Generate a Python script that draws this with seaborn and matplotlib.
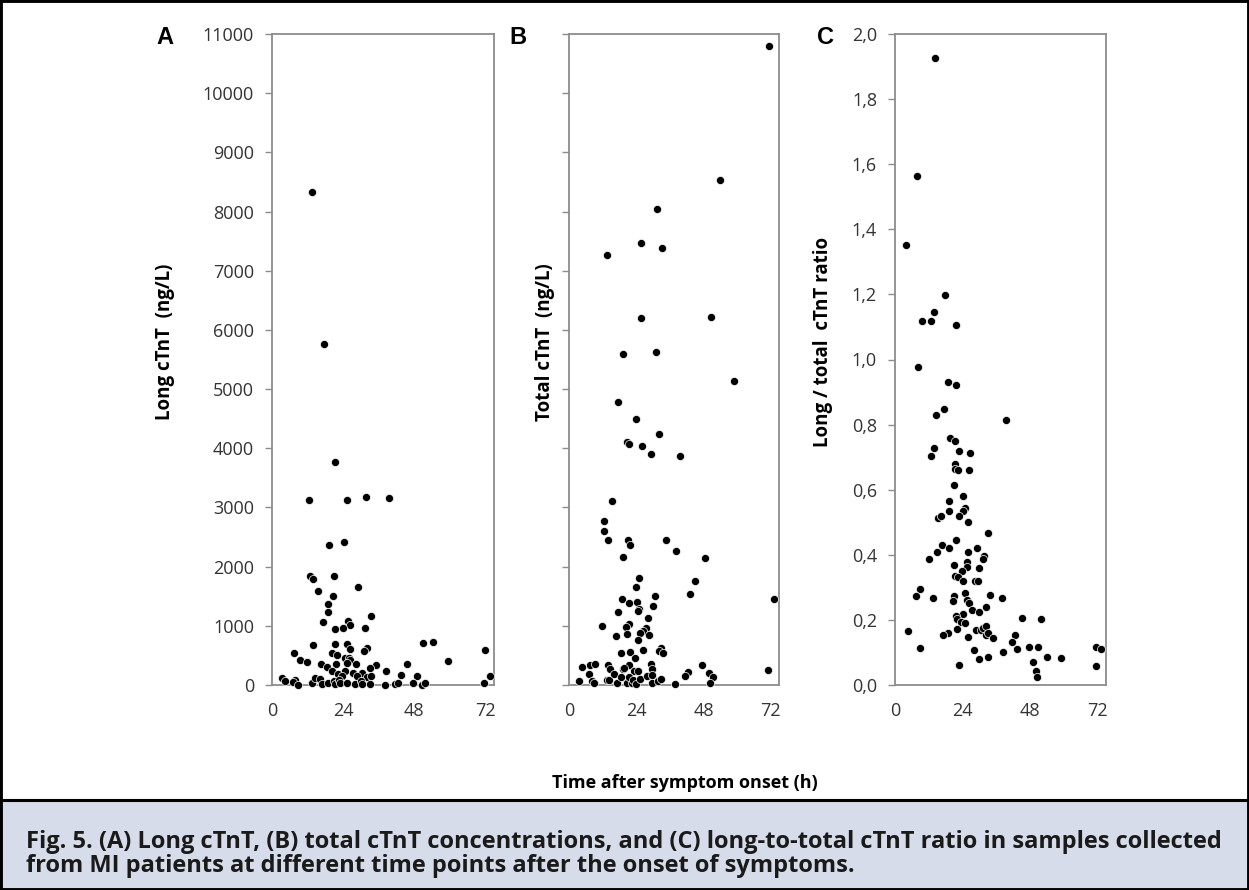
import matplotlib
matplotlib.use("Agg")
import matplotlib.pyplot as plt
from matplotlib.patches import Rectangle
import seaborn as sns
import pandas as pd

# ---------------- data ----------------
A_time = [13.5, 17.7, 21.4, 12.6, 25.4, 31.6, 39.6, 19.2, 24.3, 12.7, 13.8, 21.1, 15.4, 29.0, 20.6, 18.8,
          19.0, 33.3, 17.2, 25.6, 26.2, 21.4, 23.9, 31.4, 13.8, 21.3, 25.2, 26.5, 32.2, 31.1, 51.1, 54.3,
          71.9, 7.5, 20.4, 21.8, 24.5, 25.9, 26.5, 9.3, 11.8, 16.6, 21.5, 25.4, 28.5, 35.0, 59.4, 45.5,
          18.6, 20.2, 24.7, 27.4, 30.3, 33.1, 38.4, 43.5, 49.0, 73.6, 22.2, 23.7, 28.8, 32.2, 33.6, 3.5,
          4.4, 7.8, 7.0, 8.7, 13.5, 14.6, 16.1, 16.9, 18.8, 20.9, 21.4, 22.6, 23.1, 25.4, 27.9, 29.9,
          30.5, 33.0, 38.1, 41.6, 42.6, 47.7, 50.6, 51.7, 71.5]
A_long = [8330, 5760, 3760, 3120, 3120, 3170, 3160, 2370, 2420, 1840, 1790, 1840, 1590, 1650, 1510, 1370,
          1230, 1170, 1060, 1080, 1010, 950, 970, 970, 680, 690, 690, 610, 630, 580, 710, 720,
          590, 540, 540, 500, 460, 450, 420, 420, 390, 360, 360, 370, 360, 340, 410, 360,
          310, 230, 230, 210, 210, 280, 230, 170, 150, 150, 180, 150, 150, 140, 150, 120,
          60, 90, 50, 5, 40, 110, 100, 10, 30, 60, 10, 90, 30, 30, 10, 60,
          10, 10, 5, 20, 30, 40, 0, 30, 30]

B_time = [71.3, 53.9, 31.5, 25.6, 33.2, 13.7, 25.6, 50.7, 19.2, 31.2, 58.9, 17.6, 24.0, 32.0, 20.6, 21.5,
          26.2, 29.2, 39.6, 15.2, 12.5, 12.6, 13.9, 21.0, 21.8, 34.6, 38.1, 48.7, 19.2, 25.1, 45.0, 23.8,
          43.2, 30.8, 73.1, 18.8, 21.3, 24.2, 30.1, 25.1, 24.5, 17.4, 28.3, 11.7, 21.4, 20.4, 27.5, 26.3,
          25.4, 20.6, 16.7, 28.7, 24.5, 26.5, 32.7, 32.3, 33.7, 18.6, 21.8, 23.7, 4.5, 7.5, 9.4, 13.8,
          14.6, 19.4, 21.5, 23.2, 24.5, 29.4, 29.8, 47.5, 50.0, 51.5, 42.6, 41.4, 71.0, 7.3, 3.7, 8.1,
          8.9, 13.5, 14.3, 16.2, 17.0, 18.6, 19.6, 20.8, 21.5, 22.4, 23.0, 23.9, 25.4, 27.7, 29.5, 29.8,
          31.9, 32.8, 37.9, 50.4]
B_total = [10790, 8540, 8040, 7470, 7380, 7260, 6200, 6220, 5600, 5630, 5130, 4790, 4490, 4240, 4110, 4070,
           4040, 3910, 3870, 3110, 2770, 2610, 2450, 2450, 2370, 2450, 2260, 2140, 2170, 1800, 1760, 1650,
           1540, 1510, 1450, 1460, 1380, 1410, 1340, 1280, 1250, 1240, 1130, 1000, 1030, 980, 960, 920,
           880, 860, 830, 850, 760, 590, 620, 580, 540, 540, 560, 460, 310, 330, 360, 340,
           270, 270, 330, 240, 230, 360, 270, 340, 210, 140, 220, 150, 250, 180, 70, 60,
           40, 90, 90, 190, 40, 130, 280, 30, 140, 40, 90, 20, 100, 160, 170, 40,
           60, 100, 20, 40]

C_time = [14.2, 7.7, 3.9, 17.8, 13.9, 9.6, 12.7, 21.7, 8.3, 19.0, 21.7, 14.5, 17.5, 39.5, 19.6, 21.4,
          14.0, 12.8, 22.9, 26.7, 21.5, 21.5, 22.3, 26.4, 20.8, 24.1, 19.3, 19.1, 24.8, 24.1, 15.4, 16.3,
          22.8, 26.0, 33.1, 21.7, 16.8, 19.3, 14.8, 12.1, 25.9, 29.3, 31.8, 31.3, 25.5, 25.5, 30.0, 20.8,
          23.8, 21.3, 22.5, 24.3, 28.5, 29.6, 8.9, 7.4, 13.6, 21.1, 20.5, 24.8, 25.5, 26.3, 33.8, 38.1,
          32.4, 27.5, 30.0, 24.0, 21.7, 22.2, 23.4, 24.9, 45.3, 51.8, 22.0, 19.0, 17.0, 4.7, 25.9, 28.8,
          30.5, 31.4, 32.4, 32.4, 33.2, 35.0, 42.7, 41.5, 43.5, 47.6, 51.0, 8.9, 28.1, 38.3, 54.2, 59.0,
          33.1, 29.8, 48.9, 22.8, 50.1, 50.4, 71.3, 73.2, 71.3]
C_ratio = [1.927, 1.565, 1.352, 1.197, 1.146, 1.118, 1.118, 1.107, 0.977, 0.931, 0.922, 0.830, 0.848, 0.815,
           0.758, 0.751, 0.727, 0.704, 0.718, 0.714, 0.680, 0.665, 0.660, 0.662, 0.613, 0.582, 0.566, 0.535,
           0.543, 0.535, 0.512, 0.520, 0.518, 0.501, 0.467, 0.444, 0.431, 0.422, 0.408, 0.388, 0.409, 0.422,
           0.397, 0.388, 0.378, 0.361, 0.360, 0.369, 0.349, 0.334, 0.332, 0.321, 0.318, 0.318, 0.295, 0.272,
           0.268, 0.274, 0.259, 0.282, 0.260, 0.253, 0.278, 0.268, 0.239, 0.229, 0.225, 0.217, 0.212, 0.202,
           0.193, 0.191, 0.207, 0.202, 0.171, 0.161, 0.155, 0.167, 0.147, 0.169, 0.169, 0.175, 0.181, 0.153,
           0.161, 0.143, 0.155, 0.132, 0.112, 0.118, 0.116, 0.114, 0.107, 0.102, 0.087, 0.083, 0.087, 0.079,
           0.072, 0.060, 0.042, 0.025, 0.118, 0.110, 0.057]

x_ticks = [0, 24, 48, 72]
conc_ticks = list(range(0, 11001, 1000))
ratio_ticks = [0.0, 0.2, 0.4, 0.6, 0.8, 1.0, 1.2, 1.4, 1.6, 1.8, 2.0]
ratio_labels = ["0,0", "0,2", "0,4", "0,6", "0,8", "1,0", "1,2", "1,4", "1,6", "1,8", "2,0"]

panel_letters = ["A", "B", "C"]
y_titles = ["Long cTnT  (ng/L)", "Total cTnT  (ng/L)", "Long / total  cTnT ratio"]
x_title = "Time after symptom onset (h)"
caption1 = "Fig. 5. (A) Long cTnT, (B) total cTnT concentrations, and (C) long-to-total cTnT ratio in samples collected"
caption2 = "from MI patients at different time points after the onset of symptoms."

# ---------------- style ----------------
sns.set_style("white")
plt.rcParams["font.family"] = ["Open Sans", "DejaVu Sans"]

W, H = 1249, 890
fig = plt.figure(figsize=(W / 100, H / 100), dpi=100)

def fx(px):
    return px / W

def fy(py):
    return 1 - py / H

SPINE = "#8c8c8c"
TXT = "#333333"

panels = [
    (272, 494, pd.DataFrame({"t": A_time, "v": A_long}), (0, 11000)),
    (569, 779, pd.DataFrame({"t": B_time, "v": B_total}), (0, 11000)),
    (895, 1106, pd.DataFrame({"t": C_time, "v": C_ratio}), (0, 2.0)),
]
top_px, bot_px = 34, 685

for i, (l, r, df, ylim) in enumerate(panels):
    ax = fig.add_axes([fx(l), fy(bot_px), (r - l) / W, (bot_px - top_px) / H])
    sns.scatterplot(data=df, x="t", y="v", ax=ax, color="black", s=34,
                    edgecolor="white", linewidth=0.5, zorder=3, clip_on=False)
    ax.set_xlim(0, 75)
    ax.set_ylim(*ylim)
    ax.set_xticks(x_ticks)
    ax.set_xticklabels([str(t) for t in x_ticks])
    if i < 2:
        ax.set_yticks(conc_ticks)
        if i == 0:
            ax.set_yticklabels([str(t) for t in conc_ticks])
        else:
            ax.set_yticklabels([])
    else:
        ax.set_yticks(ratio_ticks)
        ax.set_yticklabels(ratio_labels)
    ax.set_xlabel("")
    ax.set_ylabel("")
    for sp in ax.spines.values():
        sp.set_visible(True)
        sp.set_color(SPINE)
        sp.set_linewidth(1.3)
    ax.tick_params(axis="y", which="major", direction="out", length=5, width=1,
                   color=SPINE, left=True, labelsize=13, labelcolor=TXT, pad=8)
    ax.tick_params(axis="x", which="major", length=0, labelsize=13, labelcolor=TXT, pad=12)

# panel letters
for letter, px in zip(panel_letters, [165, 518, 825]):
    fig.text(fx(px), fy(38), letter, fontsize=17, fontweight="bold",
             family=["Liberation Sans", "DejaVu Sans"], ha="center", va="center", color="black")

# y axis titles
for title, px in zip(y_titles, [165, 545, 823]):
    fig.text(fx(px), fy(342), title, rotation=90, fontsize=13.5, fontweight="bold",
             ha="center", va="center", color="black")

fig.text(fx(685), fy(783), x_title, fontsize=13, fontweight="bold",
         ha="center", va="center", color="black")

# frame & caption box
fig.patches.append(Rectangle((0, 0), 1, 1, transform=fig.transFigure, fill=False,
                             edgecolor="black", linewidth=3.5, zorder=10))
fig.patches.append(Rectangle((0, 0), 1, fy(800), transform=fig.transFigure,
                             facecolor="#d6dce9", edgecolor="black", linewidth=2.2, zorder=1))

fig.text(fx(26), fy(848), caption1, fontsize=17.0, fontweight="bold", ha="left", va="baseline",
         color="#1a1a1a")
fig.text(fx(26), fy(872), caption2, fontsize=17.0, fontweight="bold", ha="left", va="baseline",
         color="#1a1a1a")

fig.savefig("out.png", dpi=100)
